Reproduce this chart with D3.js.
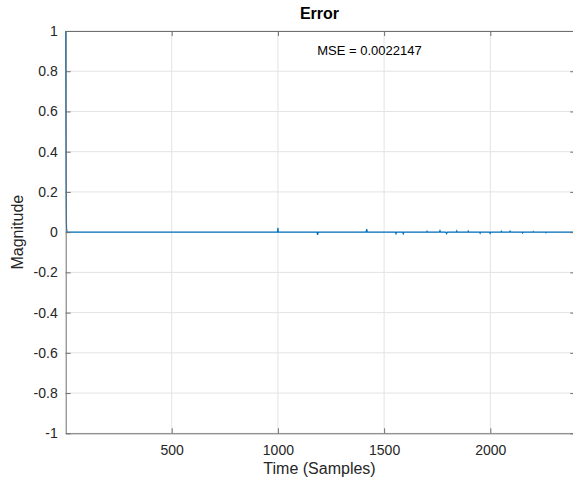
<!DOCTYPE html>
<html>
<head>
<meta charset="utf-8">
<script src="https://cdn.jsdelivr.net/npm/d3@7"></script>
<style>
    body { margin: 0; background: #fff; }
    svg { display: block; font-family: 'Liberation Sans', Arial, sans-serif; }
</style>
</head>
<body>
<div id="chart"></div>
<script>
// Error signal, sparse samples (sample index, magnitude).
var sampleIdx = [1, 2, 3, 4, 5, 7,
    996, 998, 1000, 1002,
    1184, 1187, 1190,
    1415, 1418, 1421,
    1553, 1556, 1559, 1587, 1590, 1593,
    1700, 1702, 1704, 1760, 1763, 1766, 1790, 1794, 1798,
    1840, 1842, 1844, 1894, 1896, 1898, 1950, 1952, 1954,
    1996, 1999, 2002, 2050, 2052, 2054, 2090, 2093, 2096,
    2150, 2152, 2154, 2200, 2202, 2204, 2260, 2262, 2264, 2400];
var errorVals = [1, 0.55, 0.22, 0.08, 0.02, 0,
    0, 0, 0.022, 0,
    0, -0.013, 0,
    0, 0.015, 0,
    0, -0.008, 0, 0, -0.008, 0,
    0, 0.004, 0, 0, 0.008, 0, 0, -0.007, 0,
    0, 0.006, 0, 0, 0.005, 0, 0, -0.005, 0,
    0, -0.006, 0, 0, 0.004, 0, 0, 0.005, 0,
    0, -0.004, 0, 0, 0.003, 0, 0, -0.003, 0, 0];

var xTicks = [500, 1000, 1500, 2000];
var yTicks = [-1, -0.8, -0.6, -0.4, -0.2, 0, 0.2, 0.4, 0.6, 0.8, 1];
var xDomain = [1, 2400];
var yDomain = [-1, 1];
var mseText = 'MSE = 0.0022147';

var W = 573, H = 480;
var margin = { top: 31, right: -2.3, bottom: 46.7, left: 65.7 };
var x = d3.scaleLinear().domain( xDomain ).range( [margin.left, W - margin.right] );
var y = d3.scaleLinear().domain( yDomain ).range( [H - margin.bottom, margin.top] );

var svg = d3.select( '#chart' ).append( 'svg' )
    .attr( 'width', W )
    .attr( 'height', H );

var axisCol = '#6f6f6f',
    gridCol = '#e3e3e3',
    textCol = '#262626',
    tickLen = 5;

// Grid.
var grid = svg.append( 'g' );
grid.selectAll( 'line.gx' )
    .data( xTicks )
    .join( 'line' )
        .attr( 'x1', d => x( d ) ).attr( 'x2', d => x( d ) )
        .attr( 'y1', y( 1 ) ).attr( 'y2', y( -1 ) )
        .attr( 'stroke', gridCol );
grid.selectAll( 'line.gy' )
    .data( yTicks )
    .join( 'line' )
        .attr( 'y1', d => y( d ) ).attr( 'y2', d => y( d ) )
        .attr( 'x1', x( xDomain[0] ) ).attr( 'x2', x( xDomain[1] ) )
        .attr( 'stroke', gridCol );

// Signal.
var pts = sampleIdx.map( ( s, i ) => [s, errorVals[i]] );
svg.append( 'path' )
    .datum( pts )
    .attr( 'd', d3.line().x( d => x( d[0] ) ).y( d => y( d[1] ) ) )
    .attr( 'fill', 'none' )
    .attr( 'stroke', '#0072BD' )
    .attr( 'stroke-width', 1.2 );

// Axes (MATLAB style: inward ticks on every side).
svg.append( 'g' )
    .attr( 'transform', 'translate(0,' + y( -1 ) + ')' )
    .call( d3.axisBottom( x ).tickValues( xTicks ).tickSizeInner( -tickLen ).tickSizeOuter( 0 ).tickPadding( 12 )
        .tickFormat( d3.format( 'd' ) ) );
svg.append( 'g' )
    .attr( 'transform', 'translate(0,' + y( 1 ) + ')' )
    .call( d3.axisTop( x ).tickValues( xTicks ).tickSizeInner( -tickLen ).tickSizeOuter( 0 ).tickFormat( '' ) );
svg.append( 'g' )
    .attr( 'transform', 'translate(' + x( xDomain[0] ) + ',0)' )
    .call( d3.axisLeft( y ).tickValues( yTicks ).tickSizeInner( -tickLen ).tickSizeOuter( 0 ).tickPadding( 8 )
        .tickFormat( d => d3.format( '~g' )( d ).replace( '−', '-' ) ) );
svg.append( 'g' )
    .attr( 'transform', 'translate(' + x( xDomain[1] ) + ',0)' )
    .call( d3.axisRight( y ).tickValues( yTicks ).tickSizeInner( -tickLen ).tickSizeOuter( 0 ).tickFormat( '' ) );

svg.selectAll( '.domain, .tick line' ).attr( 'stroke', axisCol );
svg.selectAll( '.tick text' )
    .attr( 'fill', textCol )
    .attr( 'font-size', 14 )
    .attr( 'font-family', "'Liberation Sans', Arial, sans-serif" );

// Labels.
var cx = ( x( xDomain[0] ) + x( xDomain[1] ) ) / 2;
svg.append( 'text' )
    .attr( 'x', cx - 1 ).attr( 'y', 19 )
    .attr( 'text-anchor', 'middle' )
    .attr( 'font-size', 16 ).attr( 'font-weight', 'bold' )
    .attr( 'fill', '#000' )
    .text( 'Error' );
svg.append( 'text' )
    .attr( 'x', cx - 1 ).attr( 'y', 474 )
    .attr( 'text-anchor', 'middle' )
    .attr( 'font-size', 16 )
    .attr( 'fill', textCol )
    .text( 'Time (Samples)' );
svg.append( 'text' )
    .attr( 'transform', 'translate(23,' + y( 0 ) + ') rotate(-90)' )
    .attr( 'text-anchor', 'middle' )
    .attr( 'font-size', 16 )
    .attr( 'fill', textCol )
    .text( 'Magnitude' );
svg.append( 'text' )
    .attr( 'x', x( 1185 ) ).attr( 'y', y( 0.9 ) + 4 )
    .attr( 'font-size', 13 )
    .attr( 'fill', '#000' )
    .text( mseText );
</script>
</body>
</html>
